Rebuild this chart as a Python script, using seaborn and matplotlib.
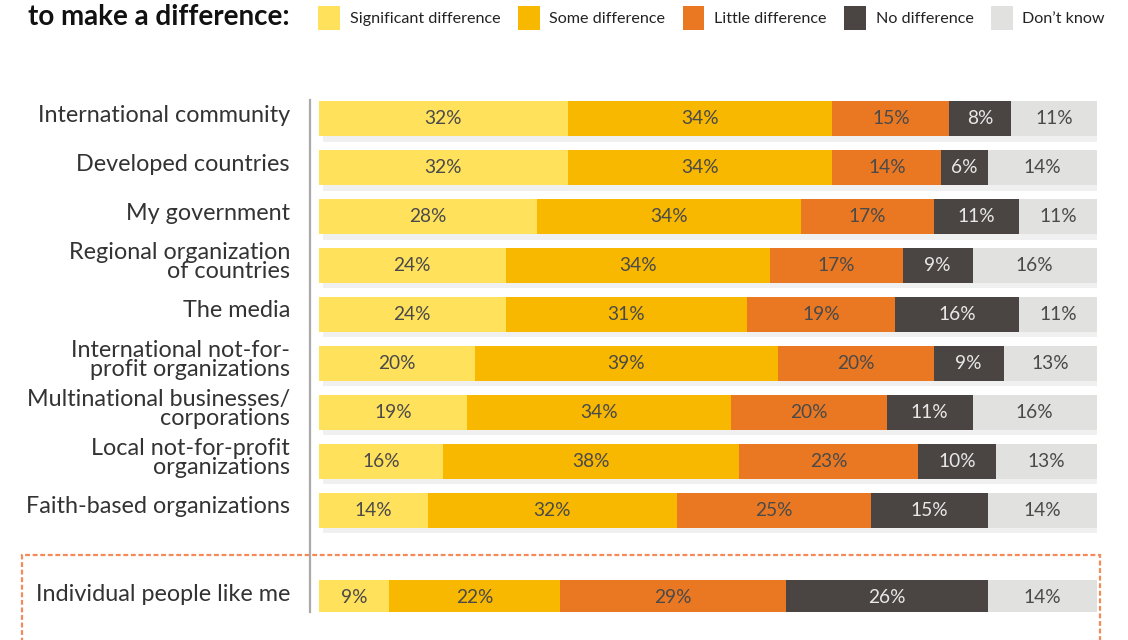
import matplotlib
matplotlib.use("Agg")
import matplotlib.pyplot as plt
import matplotlib.patheffects as pe
from matplotlib.patches import Patch, Rectangle
import numpy as np
import pandas as pd
import seaborn as sns

# Survey responses (% of respondents) per actor
categories = [
    "International community",
    "Developed countries",
    "My government",
    "Regional organization\nof countries",
    "The media",
    "International not-for-\nprofit organizations",
    "Multinational businesses/\ncorporations",
    "Local not-for-profit\norganizations",
    "Faith-based organizations",
    "Individual people like me",
]
significant = [32, 32, 28, 24, 24, 20, 19, 16, 14, 9]
some = [34, 34, 34, 34, 31, 39, 34, 38, 32, 22]
little = [15, 14, 17, 17, 19, 20, 20, 23, 25, 29]
no_diff = [8, 6, 11, 9, 16, 9, 11, 10, 15, 26]
dont_know = [11, 14, 11, 16, 11, 13, 16, 13, 14, 14]

series_names = ["Significant difference", "Some difference", "Little difference",
                "No difference", "Don\u2019t know"]
series_values = [significant, some, little, no_diff, dont_know]
series_colors = ["#FFE15C", "#F8B800", "#EA7822", "#4A4542", "#E1E1E0"]
label_colors = ["#4a4a4a", "#4a4a4a", "#4a4a4a", "#e8e8e8", "#4a4a4a"]

# row positions: the last row sits apart from the others
row_pos = [0, 1, 2, 3, 4, 5, 6, 7, 8, 9.78]

sns.set_theme(style="white")
plt.rcParams["font.family"] = ["Lato", "DejaVu Sans"]

fig = plt.figure(figsize=(11.28, 6.4), dpi=100)
W, H = 1128, 640
ax = fig.add_axes([319 / W, 1 - 612 / H, (1097 - 319) / W, (612 - 100) / H])
ax.patch.set_alpha(0)

vals = np.array(series_values, dtype=float)
cum = np.cumsum(vals, axis=0)

# stacked bars: draw cumulative totals from the outermost layer inwards
for i in range(len(series_names) - 1, -1, -1):
    df = pd.DataFrame({"x": cum[i], "y": row_pos})
    sns.barplot(data=df, x="x", y="y", orient="y", native_scale=True,
                color=series_colors[i], saturation=1, width=0.714,
                errorbar=None, ax=ax, linewidth=0)
    if i == len(series_names) - 1:
        for p in ax.patches:
            p.set_path_effects([pe.SimplePatchShadow(offset=(3, -4), shadow_rgbFace="#000000", alpha=0.06),
                                pe.Normal()])

# value labels centred in each segment
for i in range(len(series_names)):
    starts = cum[i] - vals[i]
    for j, y in enumerate(row_pos):
        xc = min((starts[j] + cum[i][j]) / 2, (starts[j] + 100) / 2)
        ax.text(xc, y, f"{int(vals[i][j])}%", ha="center", va="center",
                fontsize=13.8, color=label_colors[i])

ax.set_xlim(0, 100)
ax.set_ylim(10.076, -0.378)
ax.set_xticks([])
ax.set_xlabel("")
ax.set_ylabel("")
ax.set_yticks(row_pos)
ax.set_yticklabels([""] * len(row_pos))
ax.tick_params(axis="y", length=0)

# category names, right-aligned left of the axis line
for y, name in zip(row_pos, categories):
    ax.text(-0.0373, y - 0.07, name, transform=ax.get_yaxis_transform(), ha="right",
            va="center", fontsize=16.8, color="#333333", linespacing=0.9)

for s in ["top", "right", "bottom"]:
    ax.spines[s].set_visible(False)
ax.spines["left"].set_color("#aaaaaa")
ax.spines["left"].set_linewidth(1.6)
ax.spines["left"].set_position(("outward", 6.5))

# title fragment and legend
fig.text(28 / W, 1 - 17 / H, "to make a difference:", fontsize=20, fontweight="bold",
         color="#111111", va="center", ha="left")
handles = [Patch(facecolor=c, edgecolor="none") for c in series_colors]
fig.legend(handles, series_names, loc="center left", bbox_to_anchor=(318 / W, 1 - 18 / H),
           ncol=5, frameon=False, fontsize=11.6, handlelength=1.36, handleheight=1.95,
           handletextpad=0.6, columnspacing=1.08, borderpad=0, borderaxespad=0,
           labelcolor="#222222")

# dashed highlight box around the last row
box = Rectangle((22 / W, -0.1), (1100 - 22) / W, (0.1 + 1 - 555 / H),
                transform=fig.transFigure, fill=False, edgecolor="#F4895A",
                linewidth=1.6, linestyle=(0, (2.2, 1.2)), zorder=0)
fig.add_artist(box)

fig.savefig("out.png", dpi=100)
